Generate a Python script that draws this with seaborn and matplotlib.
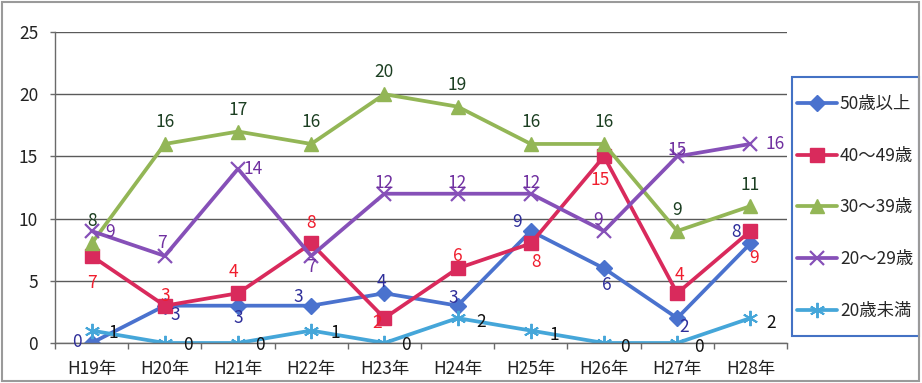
import matplotlib
matplotlib.use("Agg")
import numpy as np
import matplotlib.pyplot as plt
from matplotlib.patches import Rectangle
import seaborn as sns

# Fiscal years (Heisei era)
years = ["H19年", "H20年", "H21年", "H22年", "H23年",
         "H24年", "H25年", "H26年", "H27年", "H28年"]

# Counts per age group
age_50_plus = [0, 3, 3, 3, 4, 3, 9, 6, 2, 8]
age_40_49 = [7, 3, 4, 8, 2, 6, 8, 15, 4, 9]
age_30_39 = [8, 16, 17, 16, 20, 19, 16, 16, 9, 11]
age_20_29 = [9, 7, 14, 7, 12, 12, 12, 9, 15, 16]
age_under_20 = [1, 0, 0, 1, 0, 2, 1, 0, 0, 2]

series_names = ["50歳以上", "40～49歳", "30～39歳", "20～29歳", "20歳未満"]
series_values = [age_50_plus, age_40_49, age_30_39, age_20_29, age_under_20]

line_colors = ["#4A72CE", "#D92A5C", "#93B656", "#8650B8", "#45A6D9"]
label_colors = ["#2E2E9A", "#F01E2E", "#1C3F22", "#7030A0", "#111111"]
markers = ["D", "s", "^", "x", (6, 2, 0)]
marker_sizes = [8, 10, 10.5, 10, 11]
marker_ew = [1, 1, 1, 1.6, 1.4]

# Data-label offsets in pixels (dx right, dy down) for each point
label_offsets = [
    [(-15, -1), (10, 9), (0, 12), (-13, -9), (-3, -11), (-4, -8), (-14, -9), (3, 17), (7, 9), (-14, -11)],
    [(0, 27), (0, -10), (-5, -21), (0, -20), (-7, 5), (0, -12), (5, 19), (-4, 24), (2, -18), (4, 27)],
    [(0, -22), (0, -22), (0, -22), (0, -22), (0, -22), (0, -22), (0, -22), (0, -22), (0, -21), (0, -21)],
    [(18, 1), (-3, -13), (15, 0), (0, 11), (0, -11), (0, -11), (0, -11), (-6, -11), (0, -6), (25, 0)],
    [(22, 2), (23, 2), (22, 2), (24, 2), (22, 2), (24, 4), (24, 4), (21, 4), (22, 4), (21, 5)],
]

FS = 12.5

sns.set_theme(style="white")
plt.rcParams["font.family"] = ["Noto Sans CJK JP", "DejaVu Sans"]

fig = plt.figure(figsize=(9.22, 3.83), dpi=100)
ax = fig.add_axes([55 / 922, 40 / 383, 732 / 922, 311 / 383])

for name, vals, lc, m, ms, mew in zip(series_names, series_values, line_colors,
                                       markers, marker_sizes, marker_ew):
    sns.lineplot(x=years, y=vals, ax=ax, sort=False, color=lc, lw=2.7,
                 marker=m, ms=ms, mec=lc, mfc=lc, mew=mew, label=name)

for vals, tc, offs in zip(series_values, label_colors, label_offsets):
    for i, (v, (dx, dy)) in enumerate(zip(vals, offs)):
        ax.annotate(str(v), (i, v), xytext=(dx, -dy), textcoords="offset pixels",
                    ha="center", va="center", color=tc, fontsize=FS)

ax.set_xlim(-0.5, len(years) - 0.5)
ax.set_ylim(0, 25)
ax.set_yticks(np.arange(0, 26, 5))
ax.set_xlabel("")
ax.set_ylabel("")

ax.yaxis.grid(True, color="#5A5A5A", lw=1)
ax.xaxis.grid(False)
ax.set_axisbelow(True)

for side in ["top", "right"]:
    ax.spines[side].set_visible(False)
for side in ["left", "bottom"]:
    ax.spines[side].set_color("#6A6A6A")
    ax.spines[side].set_linewidth(1)

ax.set_xticks(np.arange(-0.5, len(years), 1), minor=True)
ax.tick_params(axis="x", which="major", length=0, pad=12, labelsize=FS, colors="#222222")
ax.tick_params(axis="x", which="minor", bottom=True, length=4, width=1, color="#6A6A6A", direction="out")
ax.tick_params(axis="y", left=True, length=3.6, width=1, color="#6A6A6A", pad=8.5,
               labelsize=FS, labelcolor="#222222")

# Legend entries without frame; the blue box is drawn separately
leg = ax.legend(loc="upper left", bbox_to_anchor=(797 / 922, 1 - 95 / 383),
                bbox_transform=fig.transFigure, frameon=False,
                fontsize=FS, handlelength=2.3, handletextpad=0.17,
                labelspacing=1.94, borderpad=0, borderaxespad=0)
fig.add_artist(Rectangle((792 / 922, 1 - 336 / 383), 127 / 922, 259 / 383,
                         transform=fig.transFigure, fill=False, ec="#4472C4", lw=1.5))

fig.add_artist(Rectangle((0.002, 0.004), 0.995, 0.99, transform=fig.transFigure,
                         fill=False, ec="#9A9A9A", lw=1.5))

fig.savefig("out.png", dpi=100, facecolor="white")
